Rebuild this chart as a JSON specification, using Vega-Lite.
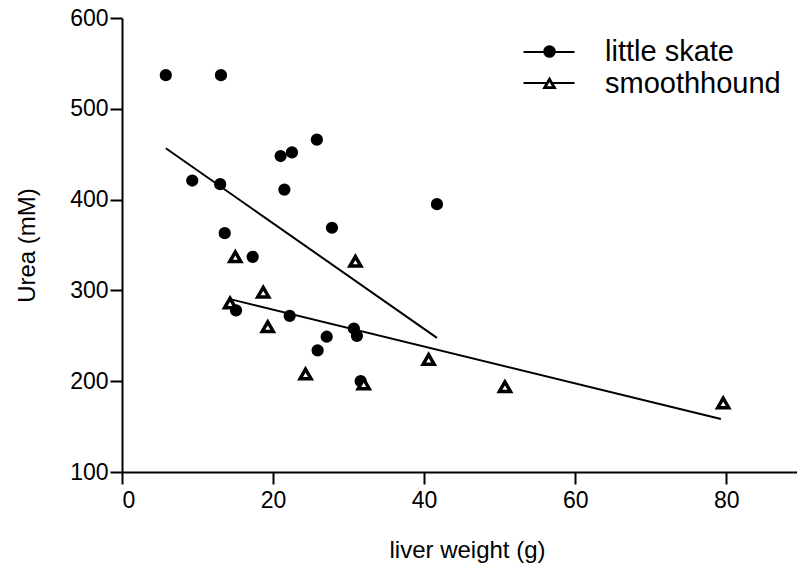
{
  "$schema": "https://vega.github.io/schema/vega-lite/v6.json",
  "width": 676,
  "height": 454,
  "autosize": {"type": "none"},
  "padding": {"left": 122, "top": 18, "right": 0, "bottom": 97},
  "background": "white",
  "config": {
    "view": {"stroke": null},
    "font": "Liberation Sans",
    "axis": {
      "domainColor": "black",
      "domainWidth": 2,
      "tickColor": "black",
      "tickWidth": 2,
      "tickSize": 12,
      "grid": false,
      "labelFont": "Liberation Sans",
      "labelFontSize": 23,
      "labelColor": "black",
      "titleFont": "Liberation Sans",
      "titleFontSize": 24,
      "titleFontWeight": "normal",
      "titleColor": "black"
    }
  },
  "datasets": {
    "points": [
      {"species": "little skate", "liver": 5.8, "urea": 537},
      {"species": "little skate", "liver": 13.1, "urea": 537},
      {"species": "little skate", "liver": 9.3, "urea": 421},
      {"species": "little skate", "liver": 13.0, "urea": 417},
      {"species": "little skate", "liver": 21.0, "urea": 448},
      {"species": "little skate", "liver": 22.5, "urea": 452},
      {"species": "little skate", "liver": 25.8, "urea": 466},
      {"species": "little skate", "liver": 21.5, "urea": 411},
      {"species": "little skate", "liver": 41.7, "urea": 395},
      {"species": "little skate", "liver": 13.6, "urea": 363},
      {"species": "little skate", "liver": 27.8, "urea": 369},
      {"species": "little skate", "liver": 17.3, "urea": 337},
      {"species": "little skate", "liver": 15.1, "urea": 278},
      {"species": "little skate", "liver": 22.2, "urea": 272},
      {"species": "little skate", "liver": 30.7, "urea": 258},
      {"species": "little skate", "liver": 31.1, "urea": 250},
      {"species": "little skate", "liver": 27.1, "urea": 249},
      {"species": "little skate", "liver": 25.9, "urea": 234},
      {"species": "little skate", "liver": 31.6, "urea": 200},
      {"species": "smoothhound", "liver": 15.0, "urea": 337},
      {"species": "smoothhound", "liver": 30.9, "urea": 332},
      {"species": "smoothhound", "liver": 18.7, "urea": 298},
      {"species": "smoothhound", "liver": 14.3, "urea": 286},
      {"species": "smoothhound", "liver": 19.3, "urea": 260},
      {"species": "smoothhound", "liver": 24.3, "urea": 208},
      {"species": "smoothhound", "liver": 32.0, "urea": 197},
      {"species": "smoothhound", "liver": 40.6, "urea": 224},
      {"species": "smoothhound", "liver": 50.7, "urea": 194},
      {"species": "smoothhound", "liver": 79.6, "urea": 176}
    ],
    "fits": [
      {"fit": "little skate fit", "liver": 5.8, "urea": 456.5},
      {"fit": "little skate fit", "liver": 41.7, "urea": 247.7},
      {"fit": "smoothhound fit", "liver": 14.3, "urea": 290.4},
      {"fit": "smoothhound fit", "liver": 79.3, "urea": 158.3}
    ]
  },
  "layer": [
    {
      "data": {"name": "fits"},
      "mark": {"type": "line", "strokeWidth": 2},
      "encoding": {
        "x": {"field": "liver", "type": "quantitative",
              "scale": {"domain": [0, 89.5], "nice": false, "zero": false},
              "axis": {"values": [0, 20, 40, 60, 80], "title": "liver weight (g)", "labelPadding": 5, "titlePadding": 26, "titleX": 345}},
        "y": {"field": "urea", "type": "quantitative",
              "scale": {"domain": [100, 600], "nice": false, "zero": false},
              "axis": {"values": [100, 200, 300, 400, 500, 600], "title": "Urea (mM)", "labelPadding": 2, "titlePadding": 30}},
        "color": {"field": "fit", "type": "nominal",
                  "scale": {"domain": ["little skate fit", "smoothhound fit"], "range": ["black", "black"]},
                  "legend": {"orient": "none", "legendX": 416, "legendY": 23, "title": null, "padding": 0,
                             "symbolType": "M-2.55,0H2.55", "symbolSize": 400, "symbolStrokeWidth": 2,
                             "labelExpr": "''", "labelFontSize": 1, "labelOffset": 0, "rowPadding": 16}}
      }
    },
    {
      "data": {"name": "points"},
      "mark": {"type": "point", "stroke": "black", "opacity": 1, "strokeWidth": 2.5, "size": 95},
      "encoding": {
        "x": {"field": "liver", "type": "quantitative"},
        "y": {"field": "urea", "type": "quantitative"},
        "shape": {"field": "species", "type": "nominal",
                  "scale": {"domain": ["little skate", "smoothhound"], "range": ["circle", "triangle-up"]},
                  "legend": {"orient": "none", "legendX": 413, "legendY": 19, "title": null, "padding": 0,
                             "symbolSize": 95, "symbolStrokeWidth": 2.8, "labelLimit": 300,
                             "labelFontSize": 29, "labelFont": "Liberation Sans", "labelColor": "black",
                             "labelOffset": 41, "rowPadding": 2}},
        "fill": {"field": "species", "type": "nominal",
                 "scale": {"domain": ["little skate", "smoothhound"], "range": ["black", "white"]},
                 "legend": {"orient": "none", "legendX": 413, "legendY": 19, "title": null, "padding": 0,
                            "symbolSize": 95, "symbolStrokeWidth": 2.8, "labelLimit": 300,
                            "labelFontSize": 29, "labelFont": "Liberation Sans", "labelColor": "black",
                            "labelOffset": 41, "rowPadding": 2}},
        "stroke": {"field": "species", "type": "nominal",
                 "scale": {"domain": ["little skate", "smoothhound"], "range": ["black", "black"]},
                 "legend": {"orient": "none", "legendX": 413, "legendY": 19, "title": null, "padding": 0,
                            "symbolSize": 95, "symbolStrokeWidth": 2.8, "labelLimit": 300,
                            "labelFontSize": 29, "labelFont": "Liberation Sans", "labelColor": "black",
                            "labelOffset": 41, "rowPadding": 2}}
      }
    },
    {
      "data": {"name": "points"},
      "transform": [{"filter": "datum.species === 'smoothhound'"}],
      "mark": {"type": "point", "shape": "triangle-up", "stroke": "black", "fill": "white", "opacity": 1, "strokeWidth": 3.5, "size": 120},
      "encoding": {
        "x": {"field": "liver", "type": "quantitative"},
        "y": {"field": "urea", "type": "quantitative"}
      }
    }
  ]
}
